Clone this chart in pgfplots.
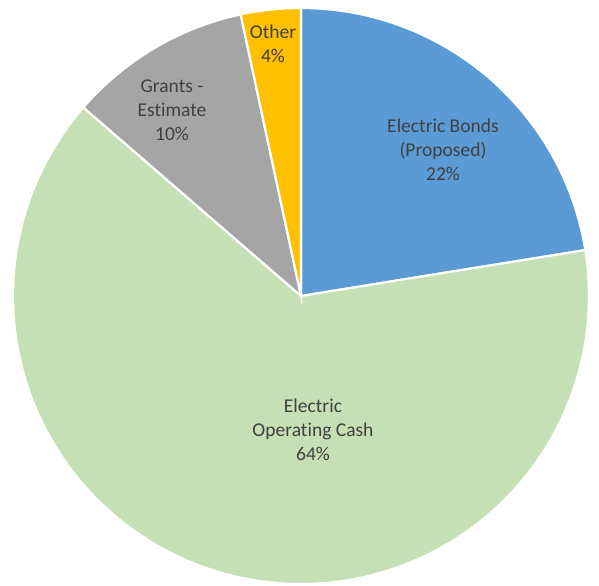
\documentclass[border=0pt]{standalone}
\usepackage{pgfplots}
\pgfplotsset{compat=1.18}
\usepackage{pgfplotstable}
\usepackage{fontspec}
\setmainfont{Carlito}[Ligatures={NoCommon}]
\definecolor{cBonds}{HTML}{5B9BD5}
\definecolor{cCash}{HTML}{C5E0B4}
\definecolor{cGrants}{HTML}{A5A5A5}
\definecolor{cOther}{HTML}{FFC000}
\definecolor{txt}{HTML}{404040}

% shares (percent), clockwise from 12 o'clock
\pgfplotstableread{
name share
Bonds 22.45
Cash 63.91
Grants 10.28
Other 3.36
}\piedata

\pgfplotstablegetelem{0}{share}\of\piedata \let\sA\pgfplotsretval
\pgfplotstablegetelem{1}{share}\of\piedata \let\sB\pgfplotsretval
\pgfplotstablegetelem{2}{share}\of\piedata \let\sC\pgfplotsretval
\pgfplotstablegetelem{3}{share}\of\piedata \let\sD\pgfplotsretval
\pgfmathsetmacro\aA{90}
\pgfmathsetmacro\aB{\aA-3.6*\sA}
\pgfmathsetmacro\aC{\aB-3.6*\sB}
\pgfmathsetmacro\aD{\aC-3.6*\sC}
\pgfmathsetmacro\aE{\aD-3.6*\sD}

\def\cx{301}
\def\cy{288}
\def\R{288}

\tikzset{lbl/.style={font=\fontsize{19.6}{24}\selectfont, text=txt, align=center, inner sep=0pt}}

\begin{document}
\begin{tikzpicture}
\begin{axis}[
  width=599bp, height=584bp, scale only axis,
  xmin=0, xmax=599, ymin=0, ymax=584,
  axis line style={draw=none}, ticks=none, clip=false,
]
\addplot[fill=cBonds, draw=white, line width=2.2pt, domain=\aB:\aA, samples=120]
  ({\cx+\R*cos(x)},{\cy+\R*sin(x)}) -- (axis cs:\cx,\cy) -- cycle;
\addplot[fill=cCash, draw=white, line width=2.2pt, domain=\aC:\aB, samples=240]
  ({\cx+\R*cos(x)},{\cy+\R*sin(x)}) -- (axis cs:\cx,\cy) -- cycle;
\addplot[fill=cGrants, draw=white, line width=2.2pt, domain=\aD:\aC, samples=60]
  ({\cx+\R*cos(x)},{\cy+\R*sin(x)}) -- (axis cs:\cx,\cy) -- cycle;
\addplot[fill=cOther, draw=white, line width=2.2pt, domain=\aE:\aD, samples=30]
  ({\cx+\R*cos(x)},{\cy+\R*sin(x)}) -- (axis cs:\cx,\cy) -- cycle;

\node[lbl] at (axis cs:443,434) {Electric Bonds\\(Proposed)\\22\%};
\node[lbl] at (axis cs:313,154) {Electric\\Operating Cash\\64\%};
\node[lbl] at (axis cs:172,474) {Grants -\\Estimate\\10\%};
\node[lbl] at (axis cs:273,540) {Other\\4\%};
\end{axis}
\end{tikzpicture}
\end{document}
